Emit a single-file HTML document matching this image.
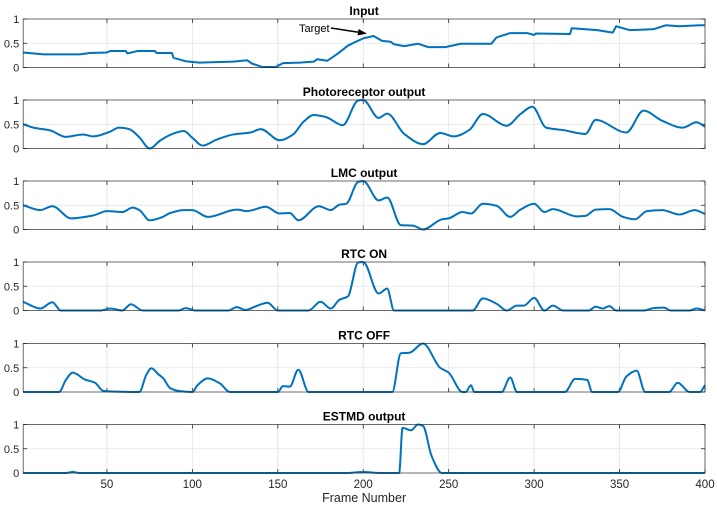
<!DOCTYPE html>
<html><head><meta charset="utf-8"><style>
html,body{margin:0;padding:0;background:#fff}
svg{display:block;font-family:"Liberation Sans",sans-serif}
</style></head><body>
<svg id="chart" width="717" height="510" viewBox="0 0 717 510" xmlns="http://www.w3.org/2000/svg"></svg>
<script>
const titles = ["Input","Photoreceptor output","LMC output","RTC ON","RTC OFF","ESTMD output"];
const xTicks = [50,100,150,200,250,300,350,400];
const yTicks = [0,0.5,1];
const yTickLabels = ["0","0.5","1"];
const inputFrames = [1,13,34,40,50,52,61,62,68,78,79,88,89,96,104,124,132,135,141,149,153,163,171,173,179,182,186,191,195,200,206,211,216,218,224,232,238,248,257,275,278,286,296,300,301,321,322,337,346,348,356,370,377,385,397,400];
const inputValues = [0.31,0.27,0.27,0.30,0.31,0.34,0.34,0.29,0.34,0.34,0.30,0.30,0.20,0.13,0.10,0.12,0.15,0.08,0.01,0.01,0.09,0.10,0.12,0.17,0.14,0.21,0.31,0.45,0.52,0.60,0.65,0.55,0.53,0.48,0.44,0.49,0.42,0.42,0.49,0.49,0.62,0.71,0.71,0.67,0.70,0.69,0.81,0.77,0.72,0.85,0.77,0.79,0.87,0.85,0.87,0.87];
const photoFrames = [1,7,17,26,36,42,52,57,63,69,75,81,87,95,100,106,114,124,134,140,151,159,165,171,178,188,197,200,209,214,224,235,245,253,262,270,284,292,299,307,317,330,336,354,364,375,387,395,400];
const photoValues = [0.50,0.43,0.37,0.24,0.29,0.25,0.35,0.43,0.40,0.23,0.00,0.16,0.28,0.36,0.22,0.06,0.18,0.29,0.33,0.40,0.17,0.29,0.55,0.69,0.65,0.48,0.99,1.00,0.63,0.72,0.30,0.09,0.32,0.25,0.38,0.71,0.47,0.71,0.86,0.43,0.38,0.30,0.59,0.33,0.78,0.57,0.43,0.54,0.45];
const lmcFrames = [1,11,18,29,42,50,59,65,69,75,82,87,95,100,109,126,132,143,151,157,162,174,181,186,190,197,200,209,214,222,229,235,246,250,258,263,270,278,286,292,300,306,311,325,330,336,344,352,359,366,375,385,394,400];
const lmcValues = [0.50,0.40,0.48,0.23,0.29,0.38,0.36,0.45,0.40,0.19,0.25,0.34,0.40,0.40,0.26,0.41,0.38,0.47,0.33,0.34,0.19,0.48,0.40,0.51,0.53,0.98,1.00,0.60,0.66,0.09,0.08,0.00,0.21,0.23,0.36,0.33,0.53,0.49,0.26,0.41,0.53,0.36,0.42,0.27,0.28,0.41,0.42,0.26,0.21,0.38,0.40,0.31,0.40,0.32];
const onFrames = [1,11,18,23,46,52,59,64,71,92,96,102,121,126,131,138,144,150,168,175,181,186,191,197,200,209,214,218,264,270,278,284,290,294,300,306,311,317,332,336,340,344,348,364,370,376,380,391,395,400];
const onValues = [0.18,0.04,0.17,0,0,0.04,0,0.13,0,0,0.05,0,0,0.07,0.01,0.10,0.16,0,0,0.18,0.04,0.22,0.29,0.99,1.00,0.35,0.45,0,0,0.25,0.14,0,0.10,0.10,0.26,0,0.10,0,0,0.08,0.04,0.09,0,0,0.05,0.06,0,0,0.04,0];
const offFrames = [1,22,26,30,37,43,48,69,73,76,80,83,87,92,100,103,109,116,122,150,153,157,162,168,217,222,227,235,245,250,258,260,263,265,281,286,290,318,324,331,334,349,354,360,365,379,384,391,397,400];
const offValues = [0,0,0.25,0.40,0.26,0.19,0.02,0,0.35,0.49,0.37,0.28,0.08,0.02,0,0.14,0.28,0.18,0,0,0.12,0.11,0.46,0,0,0.80,0.81,1.00,0.50,0.40,0,0,0.14,0,0,0.30,0,0,0.27,0.25,0,0,0.32,0.44,0,0,0.19,0,0,0.14];
const estmdFrames = [1,26,30,34,190,200,210,221,223,228,232,235,240,246,400];
const estmdValues = [0,0,0.02,0,0,0.02,0,0,0.93,0.88,1.00,0.97,0.35,0,0];

const seriesF = [inputFrames,photoFrames,lmcFrames,onFrames,offFrames,estmdFrames];
const seriesV = [inputValues,photoValues,lmcValues,onValues,offValues,estmdValues];
const NS="http://www.w3.org/2000/svg";
const svg=document.getElementById('chart');
const L=23.2,R=705,X0=1,X1=400;
const tops=[19,100,181,262,343.5,424.5],H=48.5;
const sx=f=>L+(f-X0)/(X1-X0)*(R-L);
function mk(tag,attrs,parent){const e=document.createElementNS(NS,tag);for(const k in attrs)e.setAttribute(k,attrs[k]);(parent||svg).appendChild(e);return e;}
function monoPath(pts){
  const n=pts.length;
  if(n<2)return '';
  const dx=[],dy=[],s=[];
  for(let i=0;i<n-1;i++){dx[i]=pts[i+1][0]-pts[i][0];dy[i]=pts[i+1][1]-pts[i][1];s[i]=dx[i]?dy[i]/dx[i]:0;}
  const m=[];
  m[0]=s[0];m[n-1]=s[n-2];
  for(let i=1;i<n-1;i++){
    if(s[i-1]*s[i]<=0)m[i]=0;
    else{const w1=2*dx[i]+dx[i-1],w2=dx[i]+2*dx[i-1];m[i]=(w1+w2)/(w1/s[i-1]+w2/s[i]);}
  }
  let d='M'+pts[0][0].toFixed(2)+','+pts[0][1].toFixed(2);
  for(let i=0;i<n-1;i++){
    const h=dx[i]/3;
    d+=' C'+(pts[i][0]+h).toFixed(2)+','+(pts[i][1]+m[i]*h).toFixed(2)+' '+(pts[i+1][0]-h).toFixed(2)+','+(pts[i+1][1]-m[i+1]*h).toFixed(2)+' '+pts[i+1][0].toFixed(2)+','+pts[i+1][1].toFixed(2);
  }
  return d;
}
for(let p=0;p<6;p++){
  const T=tops[p],B=T+H;
  const sy=v=>B-v*H;
  const g=mk('g',{});
  
  
  mk('rect',{x:L,y:T,width:R-L,height:H,fill:'#fff'},g);
  for(const t of xTicks){const x=sx(t);
    const gl=mk('line',{x1:x,x2:x,y1:T,y2:B,stroke:'#e3e3e3','stroke-width':0.8},g);
    
    mk('line',{x1:x,x2:x,y1:B,y2:B-4,stroke:'#262626','stroke-width':0.8},g);
    mk('line',{x1:x,x2:x,y1:T,y2:T+4,stroke:'#262626','stroke-width':0.8},g);
  }
  yTicks.forEach((t,i)=>{const y=sy(t);
    if(t>0&&t<1){const gl=mk('line',{x1:L,x2:R,y1:y,y2:y,stroke:'#e3e3e3','stroke-width':0.8},g);
      }
    mk('line',{x1:L,x2:L+4,y1:y,y2:y,stroke:'#262626','stroke-width':0.8},g);
    mk('line',{x1:R,x2:R-4,y1:y,y2:y,stroke:'#262626','stroke-width':0.8},g);
    const tx=mk('text',{x:L-4,y:y+4,'text-anchor':'end','font-size':11,fill:'#262626'},g);
    tx.textContent=yTickLabels[i];
    
  });
  const fr=seriesF[p],vals=seriesV[p];
  const pts=fr.map((f,i)=>[sx(f),sy(vals[i])]);
  const d = p===0 ? 'M'+pts.map(q=>q[0].toFixed(2)+','+q[1].toFixed(2)).join(' L') : monoPath(pts);
  const path=mk('path',{d:d,fill:'none',stroke:'#0072BD','stroke-width':2,'stroke-linejoin':'round'},g);
  
  
  mk('rect',{x:L,y:T,width:R-L,height:H,fill:'none',stroke:'#262626','stroke-width':0.8,'stroke-opacity':0.85},g);
  const tt=mk('text',{x:(L+R)/2,y:T-4,'text-anchor':'middle','font-size':12,'font-weight':'bold',fill:'#000'},g);
  tt.textContent=titles[p];
  
  
  if(p===5){
    for(const t of xTicks){
      const tx=mk('text',{x:sx(t),y:B+15,'text-anchor':'middle','font-size':11.5,fill:'#262626'},g);
      tx.textContent=String(t);
      
    }
  }
}
const xl=mk('text',{x:(L+R)/2,y:502,'text-anchor':'middle','font-size':12.5,fill:'#262626'});
xl.textContent='Frame Number';


const at=mk('text',{x:299,y:32,'font-size':11,fill:'#000'});
at.textContent='Target';


const al=mk('line',{x1:331,y1:28,x2:360,y2:32.5,stroke:'#000','stroke-width':1.5});


const ah=mk('polygon',{points:'367,33.6 358.6,29 357.6,35.4',fill:'#000'});


</script>
</body></html>
